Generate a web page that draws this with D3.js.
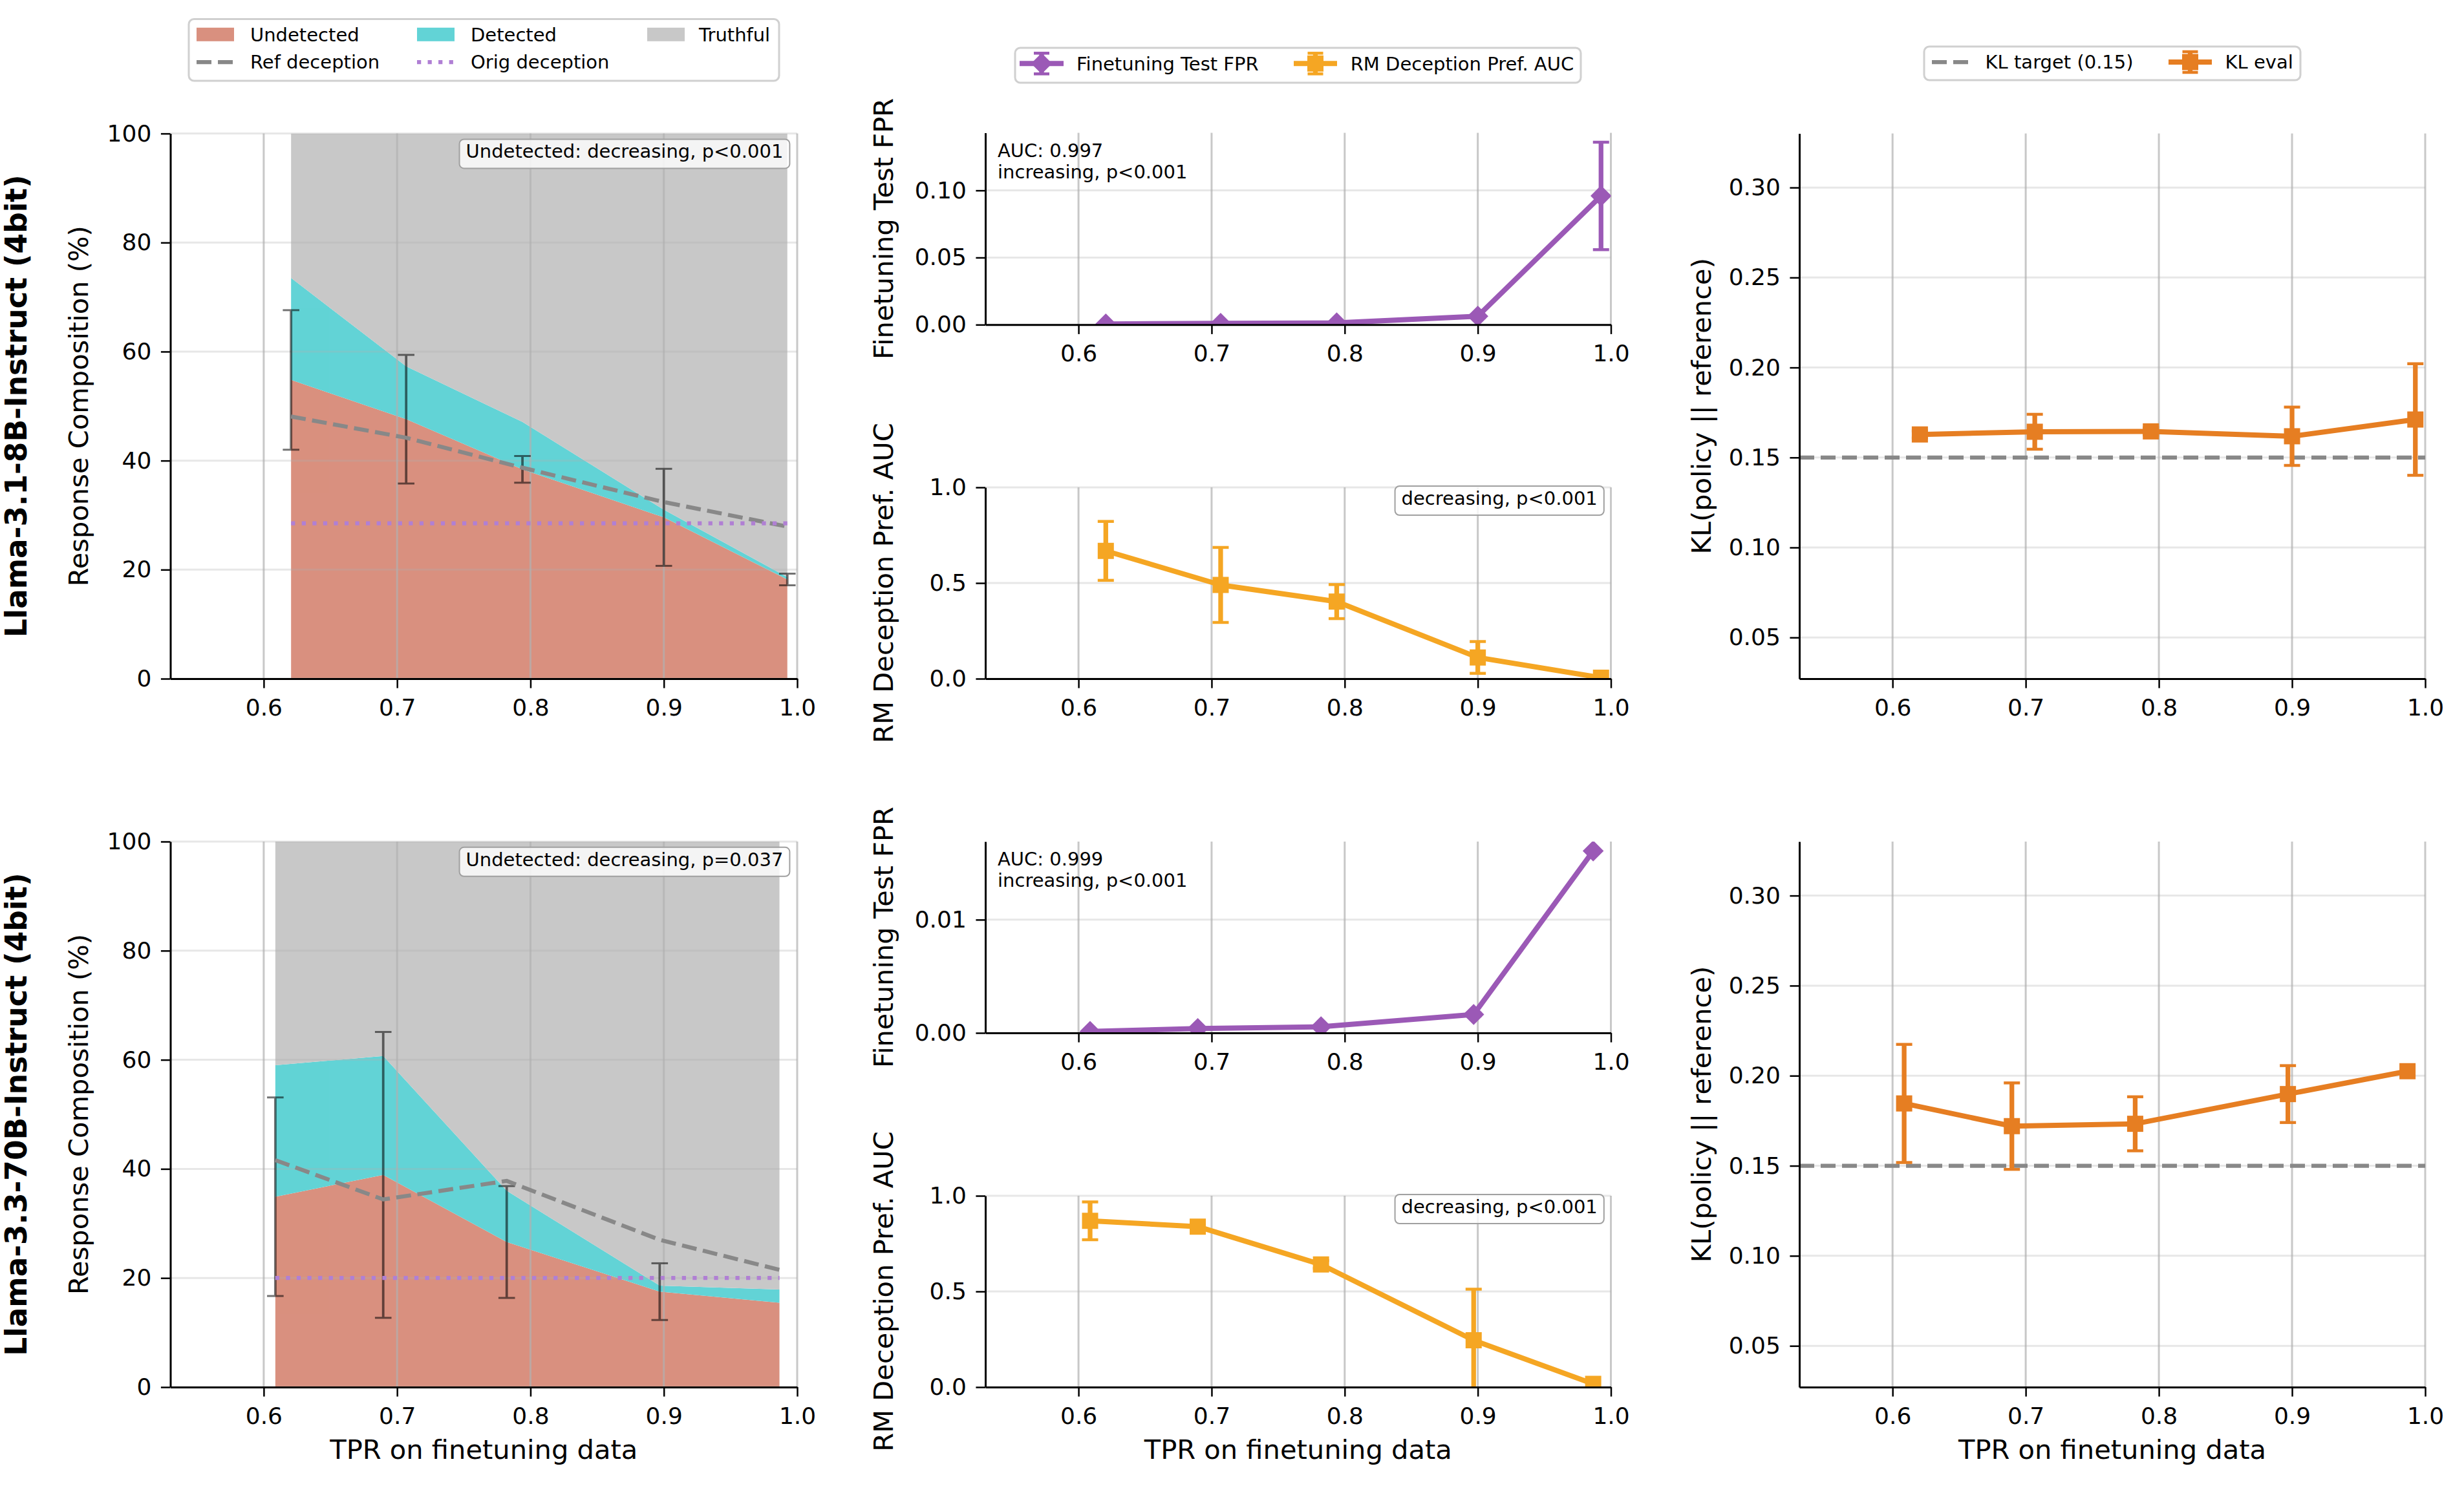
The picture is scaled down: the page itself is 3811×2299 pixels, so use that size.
<!DOCTYPE html>
<html>
<head>
<meta charset="utf-8">
<script src="https://cdn.jsdelivr.net/npm/d3@7"></script>
<style>
  body { margin: 0; background: #fff; }
  text { font-family: "DejaVu Sans", sans-serif; }
</style>
</head>
<body>
<svg id="fig" width="3811" height="2299"></svg>
<script>
// ---- data ----
var modelNames = ["Llama-3.1-8B-Instruct (4bit)", "Llama-3.3-70B-Instruct (4bit)"];
var xTicks = [0.6, 0.7, 0.8, 0.9, 1.0];

var tpr8b  = [0.6205, 0.7068, 0.7940, 0.9000, 0.9926];
var tpr70b = [0.6087, 0.6896, 0.7822, 0.8969, 0.9867];

// response composition (%)
var undet8b    = [54.8, 47.6, 38.4, 29.6, 18.2];
var undetErr8b = [12.8, 11.8, 2.45, 8.9, 1.07];
var det8b      = [18.7, 9.7, 8.7, 1.4, 0.45];
var refDec8b   = [48.1, 44.2, 38.7, 32.4, 27.9];
var origDec8b  = 28.5;

var undet70b    = [34.9, 38.9, 26.6, 17.5, 15.45];
var undetErr70b = [18.2, 26.2, 10.25, 5.2, 0];
var det70b      = [24.1, 21.8, 9.4, 1.1, 2.45];
var refDec70b   = [41.6, 34.4, 37.8, 27.0, 21.5];
var origDec70b  = 20.0;

// finetuning test FPR
var fpr8b     = [0.0005, 0.0010, 0.0013, 0.0063, 0.0959];
var fprErr8b  = [0, 0, 0, 0.001, 0.040];
var fpr70b    = [0.00013, 0.00038, 0.00054, 0.00163, 0.01607];
var fprErr70b = [0, 0, 0, 0.0001, 0];

// RM deception preference AUC
var rm8b     = [0.668, 0.490, 0.403, 0.111, 0.005];
var rmErr8b  = [0.154, 0.196, 0.089, 0.083, 0];
var rm70b    = [0.869, 0.839, 0.641, 0.245, 0.017];
var rmErr70b = [0.099, 0.010, 0.020, 0.267, 0];

// KL(policy || reference)
var kl8b     = [0.1628, 0.1643, 0.1645, 0.1618, 0.1711];
var klErr8b  = [0.002, 0.0097, 0.002, 0.0162, 0.031];
var kl70b    = [0.1846, 0.1720, 0.1733, 0.1898, 0.2025];
var klErr70b = [0.0328, 0.024, 0.015, 0.0158, 0];
var klTarget = 0.15;

var compTicks   = [0, 20, 40, 60, 80, 100];
var fprTicks8b  = [0, 0.05, 0.10];
var fprTicks70b = [0, 0.01];
var rmTicks     = [0, 0.5, 1.0];
var klTicks     = [0.05, 0.10, 0.15, 0.20, 0.25, 0.30];

var compNotes = ["Undetected: decreasing, p<0.001", "Undetected: decreasing, p=0.037"];
var fprNotes  = [["AUC: 0.997", "increasing, p<0.001"], ["AUC: 0.999", "increasing, p<0.001"]];
var rmNotes   = ["decreasing, p<0.001", "decreasing, p<0.001"];

// ---- layout ----
var xDomain = [0.53, 1.0];
var cols = [
  {left: 263.5, right: 1233},
  {left: 1524, right: 2491.5},
  {left: 2783, right: 3751}
];
var rows = [
  {top: 206.6, bottom: 1050, fprTop: 205.5, fprBottom: 502.3, rmTop: 754, rmBottom: 1050},
  {top: 1302, bottom: 2146, fprTop: 1302, fprBottom: 1598, rmTop: 1850, rmBottom: 2146}
];

var cUndet = "#d9907f", cDet = "#62d3d6", cTruth = "#c8c8c8";
var cFpr = "#9b59b6", cRm = "#f5a623", cKl = "#e67e22";
var cRef = "#888888", cOrig = "#b07fd4";

var models = [
  {tpr: tpr8b, undet: undet8b, err: undetErr8b, det: det8b, ref: refDec8b, orig: origDec8b,
   fpr: fpr8b, fprErr: fprErr8b, fprTicks: fprTicks8b, fprMax: 0.1429,
   rm: rm8b, rmErr: rmErr8b, kl: kl8b, klErr: klErr8b},
  {tpr: tpr70b, undet: undet70b, err: undetErr70b, det: det70b, ref: refDec70b, orig: origDec70b,
   fpr: fpr70b, fprErr: fprErr70b, fprTicks: fprTicks70b, fprMax: 0.0169,
   rm: rm70b, rmErr: rmErr70b, kl: kl70b, klErr: klErr70b}
];

var svg = d3.select("#fig");
var defs = svg.append("defs");
var clipCount = 0;

function makeClip(L, T, R, B) {
  var id = "clip" + (clipCount++);
  defs.append("clipPath").attr("id", id)
    .append("rect").attr("x", L).attr("y", T).attr("width", R - L).attr("height", B - T);
  return "url(#" + id + ")";
}

function grid(g, x, y, yTicks, T, B, L, R) {
  g.selectAll(null).data(xTicks).enter().append("line")
    .attr("x1", function(d) { return x(d); })
    .attr("x2", function(d) { return x(d); })
    .attr("y1", T).attr("y2", B)
    .attr("stroke", "#b0b0b0").attr("stroke-opacity", 0.7).attr("stroke-width", 3);
  g.selectAll(null).data(yTicks).enter().append("line")
    .attr("x1", L).attr("x2", R)
    .attr("y1", function(d) { return y(d); })
    .attr("y2", function(d) { return y(d); })
    .attr("stroke", "#b0b0b0").attr("stroke-opacity", 0.3).attr("stroke-width", 3);
}

function axes(g, x, y, yTicks, yFmt, B, L) {
  var ax = g.append("g")
    .attr("transform", "translate(0," + B + ")")
    .call(d3.axisBottom(x).tickValues(xTicks).tickFormat(d3.format(".1f"))
      .tickSize(14.6).tickPadding(17).tickSizeOuter(0));
  var ay = g.append("g")
    .attr("transform", "translate(" + L + ",0)")
    .call(d3.axisLeft(y).tickValues(yTicks).tickFormat(yFmt)
      .tickSize(14.6).tickPadding(14.6).tickSizeOuter(0));
  [ax, ay].forEach(function(a) {
    a.attr("font-size", 36).attr("font-family", "DejaVu Sans");
    a.selectAll("text").attr("fill", "#000");
    a.selectAll(".tick line").attr("stroke", "#000").attr("stroke-width", 2.5);
    a.select(".domain").attr("stroke", "#000").attr("stroke-width", 3);
  });
}

function yLabel(text, xb, cy) {
  svg.append("text")
    .attr("transform", "translate(" + xb + "," + cy + ") rotate(-90)")
    .attr("text-anchor", "middle")
    .attr("font-size", 41.6)
    .text(text);
}

function noteBox(parent, text, xRight, yBase, boxTop) {
  var g = parent.append("g");
  var box = g.append("rect");
  var t = g.append("text")
    .attr("x", xRight).attr("y", yBase)
    .attr("text-anchor", "end")
    .attr("font-size", 29)
    .text(text);
  var w = t.node().getComputedTextLength();
  box.attr("x", xRight - w - 10).attr("y", boxTop)
    .attr("width", w + 20).attr("height", 45)
    .attr("rx", 7)
    .attr("fill", "#ffffff").attr("fill-opacity", 0.8)
    .attr("stroke", "#a0a0a0").attr("stroke-width", 2);
}

function errorBars(g, x, y, xs, vals, errs, color, width, capW, capT, opacity) {
  var pts = xs.map(function(t, i) { return {x: t, v: vals[i], e: errs[i]}; })
    .filter(function(d) { return d.e > 0; });
  var eb = g.append("g").attr("opacity", opacity);
  eb.selectAll(null).data(pts).enter().append("line")
    .attr("x1", function(d) { return x(d.x); })
    .attr("x2", function(d) { return x(d.x); })
    .attr("y1", function(d) { return y(d.v - d.e); })
    .attr("y2", function(d) { return y(d.v + d.e); })
    .attr("stroke", color).attr("stroke-width", width);
  [-1, 1].forEach(function(s) {
    eb.selectAll(null).data(pts).enter().append("line")
      .attr("x1", function(d) { return x(d.x) - capW / 2; })
      .attr("x2", function(d) { return x(d.x) + capW / 2; })
      .attr("y1", function(d) { return y(d.v + s * d.e); })
      .attr("y2", function(d) { return y(d.v + s * d.e); })
      .attr("stroke", color).attr("stroke-width", capT);
  });
}

var squareSym = d3.symbol().type(d3.symbolSquare).size(25 * 25);
var diamondSym = d3.symbol().type(d3.symbolSquare).size(23 * 23);

function markerTransform(cx, cy, shape) {
  return "translate(" + cx + "," + cy + ")" + (shape === "D" ? " rotate(45)" : "");
}

// ---- composition panel (left column) ----
function compPanel(r) {
  var m = models[r], c = cols[0], T = rows[r].top, B = rows[r].bottom;
  var x = d3.scaleLinear().domain(xDomain).range([c.left, c.right]);
  var y = d3.scaleLinear().domain([0, 100]).range([B, T]);
  var g = svg.append("g");
  var pts = m.tpr.map(function(t, i) {
    return {x: t, u: m.undet[i], d: m.undet[i] + m.det[i], ref: m.ref[i]};
  });
  var fills = g.append("g").attr("clip-path", makeClip(c.left, T, c.right, B));
  fills.append("path").datum(pts)
    .attr("d", d3.area().x(function(d) { return x(d.x); }).y0(y(0)).y1(function(d) { return y(d.u); }))
    .attr("fill", cUndet);
  fills.append("path").datum(pts)
    .attr("d", d3.area().x(function(d) { return x(d.x); })
      .y0(function(d) { return y(d.u); }).y1(function(d) { return y(d.d); }))
    .attr("fill", cDet);
  fills.append("path").datum(pts)
    .attr("d", d3.area().x(function(d) { return x(d.x); })
      .y0(function(d) { return y(d.d); }).y1(y(100)))
    .attr("fill", cTruth);

  grid(g, x, y, compTicks, T, B, c.left, c.right);

  var plot = g.append("g").attr("clip-path", makeClip(c.left, T, c.right, B));
  errorBars(plot, x, y, m.tpr, m.undet, m.err, "#000", 3.8, 25.6, 3, 0.55);
  plot.append("path").datum(pts)
    .attr("d", d3.line().x(function(d) { return x(d.x); }).y(function(d) { return y(d.ref); }))
    .attr("fill", "none").attr("stroke", cRef).attr("stroke-width", 6.25)
    .attr("stroke-dasharray", "23,10");
  plot.append("line")
    .attr("x1", x(m.tpr[0])).attr("x2", x(m.tpr[m.tpr.length - 1]))
    .attr("y1", y(m.orig)).attr("y2", y(m.orig))
    .attr("stroke", cOrig).attr("stroke-width", 6.25)
    .attr("stroke-dasharray", "6.25,10.3");

  axes(g, x, y, compTicks, d3.format("d"), B, c.left);
  noteBox(g, compNotes[r], c.right - 21.6, T + 37.5, T + 8.8);
  yLabel("Response Composition (%)", 136, (T + B) / 2);
}

// ---- line panels (middle / right columns) ----
function linePanel(ci, T, B, yDomain, yTicks, yFmt) {
  var c = cols[ci];
  var x = d3.scaleLinear().domain(xDomain).range([c.left, c.right]);
  var y = d3.scaleLinear().domain(yDomain).range([B, T]);
  var g = svg.append("g");
  grid(g, x, y, yTicks, T, B, c.left, c.right);
  var plot = g.append("g").attr("clip-path", makeClip(c.left, T, c.right, B));
  return {x: x, y: y, g: g, plot: plot, c: c, T: T, B: B, yTicks: yTicks, yFmt: yFmt};
}

function drawSeries(p, xs, vals, errs, color, shape) {
  errorBars(p.plot, p.x, p.y, xs, vals, errs, color, 7.3, 25, 4.5, 1);
  var pts = xs.map(function(t, i) { return [t, vals[i]]; });
  p.plot.append("path").datum(pts)
    .attr("d", d3.line().x(function(d) { return p.x(d[0]); }).y(function(d) { return p.y(d[1]); }))
    .attr("fill", "none").attr("stroke", color).attr("stroke-width", 8)
    .attr("stroke-linejoin", "round");
  p.plot.selectAll(null).data(pts).enter().append("path")
    .attr("d", shape === "D" ? diamondSym : squareSym)
    .attr("transform", function(d) { return markerTransform(p.x(d[0]), p.y(d[1]), shape); })
    .attr("fill", color);
}

function finishPanel(p) {
  axes(p.g, p.x, p.y, p.yTicks, p.yFmt, p.B, p.c.left);
}

rows.forEach(function(row, r) {
  var m = models[r];
  compPanel(r);

  // FPR
  var pF = linePanel(1, row.fprTop, row.fprBottom, [0, m.fprMax], m.fprTicks, d3.format(".2f"));
  drawSeries(pF, m.tpr, m.fpr, m.fprErr, cFpr, "D");
  finishPanel(pF);
  pF.g.append("text").attr("x", cols[1].left + 19).attr("y", row.fprTop + 37)
    .attr("font-size", 29).text(fprNotes[r][0]);
  pF.g.append("text").attr("x", cols[1].left + 19).attr("y", row.fprTop + 70)
    .attr("font-size", 29).text(fprNotes[r][1]);
  yLabel("Finetuning Test FPR", 1381, (row.fprTop + row.fprBottom) / 2);

  // RM AUC
  var pR = linePanel(1, row.rmTop, row.rmBottom, [0, 1], rmTicks, d3.format(".1f"));
  drawSeries(pR, m.tpr, m.rm, m.rmErr, cRm, "s");
  finishPanel(pR);
  noteBox(pR.g, rmNotes[r], cols[1].right - 20.7, row.rmTop + 26.7, row.rmTop - 2);
  yLabel("RM Deception Pref. AUC", 1381, (row.rmTop + row.rmBottom) / 2);

  // KL
  var pK = linePanel(2, row.top, row.bottom, [0.0271, 0.330], klTicks, d3.format(".2f"));
  pK.plot.append("line")
    .attr("x1", cols[2].left).attr("x2", cols[2].right)
    .attr("y1", pK.y(klTarget)).attr("y2", pK.y(klTarget))
    .attr("stroke", cRef).attr("stroke-width", 6.25).attr("stroke-dasharray", "23,10");
  drawSeries(pK, m.tpr, m.kl, m.klErr, cKl, "s");
  finishPanel(pK);
  yLabel("KL(policy || reference)", 2646, (row.top + row.bottom) / 2);

  // row label
  svg.append("text")
    .attr("transform", "translate(41," + ((row.top + row.bottom) / 2) + ") rotate(-90)")
    .attr("text-anchor", "middle")
    .attr("font-size", 45.4).attr("font-weight", "bold")
    .text(modelNames[r]);
});

// x labels on bottom row
cols.forEach(function(c) {
  svg.append("text")
    .attr("x", (c.left + c.right) / 2).attr("y", 2257)
    .attr("text-anchor", "middle").attr("font-size", 41.6)
    .text("TPR on finetuning data");
});

// ---- legends ----
function legendBox(x0, y0, x1, y1) {
  svg.append("rect").attr("x", x0).attr("y", y0).attr("width", x1 - x0).attr("height", y1 - y0)
    .attr("rx", 8).attr("fill", "#fff").attr("stroke", "#d0d0d0").attr("stroke-width", 3);
}
function legendText(x, yc, s) {
  svg.append("text").attr("x", x).attr("y", yc + 10.3).attr("font-size", 29).text(s);
}

legendBox(292, 29.5, 1205, 125);
[[304, 53.3, cUndet, "Undetected", 387], [645, 53.3, cDet, "Detected", 728], [1001, 53.3, cTruth, "Truthful", 1081]]
  .forEach(function(d) {
    svg.append("rect").attr("x", d[0]).attr("y", d[1] - 10.5).attr("width", 58).attr("height", 21).attr("fill", d[2]);
    legendText(d[4], d[1], d[3]);
  });
svg.append("line").attr("x1", 304).attr("x2", 362).attr("y1", 96).attr("y2", 96)
  .attr("stroke", cRef).attr("stroke-width", 6.25).attr("stroke-dasharray", "23,10");
legendText(387, 96, "Ref deception");
svg.append("line").attr("x1", 645).attr("x2", 703).attr("y1", 96).attr("y2", 96)
  .attr("stroke", cOrig).attr("stroke-width", 6.25).attr("stroke-dasharray", "6.25,10.3");
legendText(728, 96, "Orig deception");

function legendSeries(x0, x1, yc, color, shape) {
  var cx = (x0 + x1) / 2;
  svg.append("line").attr("x1", x0).attr("x2", x1).attr("y1", yc).attr("y2", yc)
    .attr("stroke", color).attr("stroke-width", 8);
  svg.append("line").attr("x1", cx).attr("x2", cx).attr("y1", yc - 16).attr("y2", yc + 16)
    .attr("stroke", color).attr("stroke-width", 7.3);
  [-16, 16].forEach(function(o) {
    svg.append("line").attr("x1", cx - 12).attr("x2", cx + 12).attr("y1", yc + o).attr("y2", yc + o)
      .attr("stroke", color).attr("stroke-width", 4.5);
  });
  svg.append("path").attr("d", shape === "D" ? diamondSym : squareSym)
    .attr("transform", markerTransform(cx, yc, shape))
    .attr("fill", color);
}

legendBox(1570, 74, 2445, 128);
legendSeries(1577, 1645, 98.3, cFpr, "D");
legendText(1665, 98.3, "Finetuning Test FPR");
legendSeries(2001, 2068, 98.3, cRm, "s");
legendText(2088.7, 98.3, "RM Deception Pref. AUC");

legendBox(2976, 72, 3558, 124);
svg.append("line").attr("x1", 2988).attr("x2", 3047).attr("y1", 96).attr("y2", 96)
  .attr("stroke", cRef).attr("stroke-width", 6.25).attr("stroke-dasharray", "23,10");
legendText(3070.6, 96, "KL target (0.15)");
legendSeries(3354, 3421, 96, cKl, "s");
legendText(3441.5, 96, "KL eval");
</script>
</body>
</html>
